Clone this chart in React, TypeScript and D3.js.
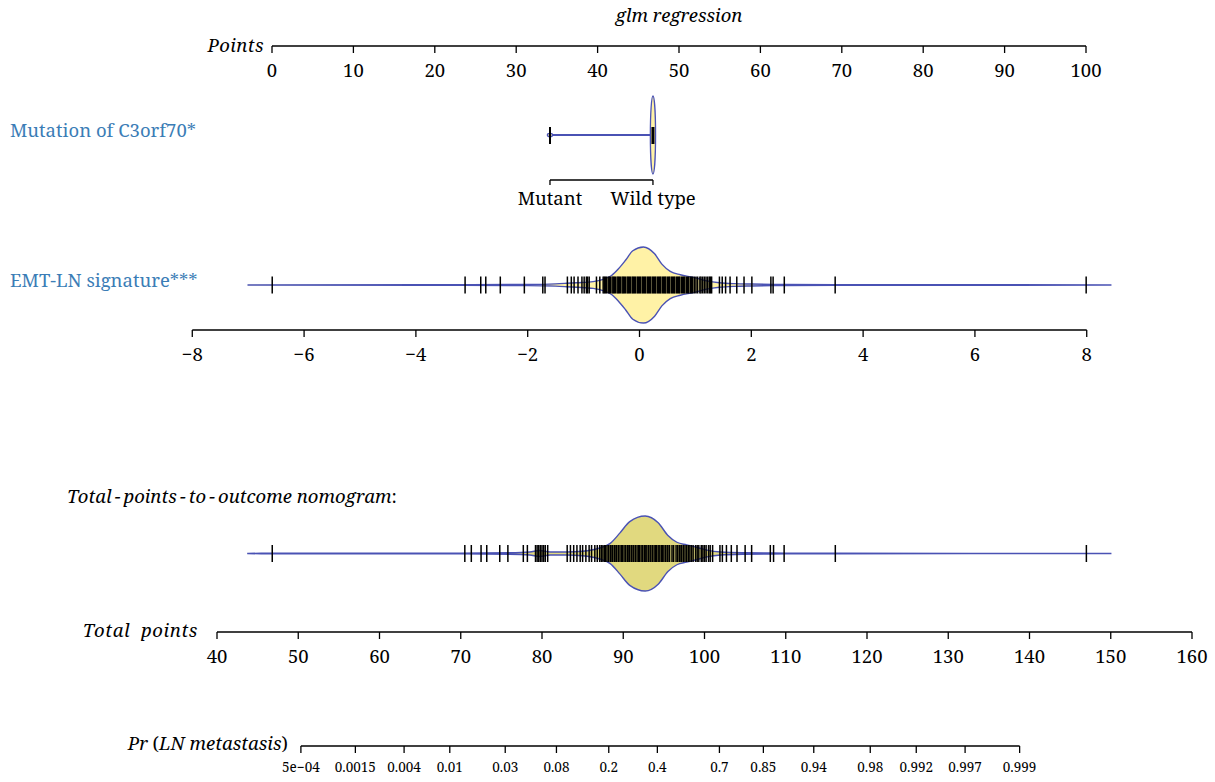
import React from "react";
import * as d3 from "d3";

// ---- Model scale data ----
const pointTicks = [0, 10, 20, 30, 40, 50, 60, 70, 80, 90, 100];

const mutationLevels = ["Mutant", "Wild type"];
const mutationPoints = [34.15, 46.8];
const mutationFreq = [0.04, 0.96];

const emtTicks = [-8, -6, -4, -2, 0, 2, 4, 6, 8];
// EMT-LN signature values that map to 0 and 100 points
const emtPointRange = [-6.574, 7.987];

// EMT-LN signature observations (rug)
const emtRug = [
  -6.57, -3.12, -2.84, -2.75, -2.49, -2.06, -1.73, -1.69, -1.29, -1.22, -1.17, -1.1, -1.03, -0.99,
  -0.95, -0.93, -0.9, -0.77, -0.71,
  -0.65, -0.63, -0.61, -0.59, -0.56, -0.54, -0.52, -0.49, -0.47, -0.45, -0.43, -0.4, -0.38, -0.36,
  -0.34, -0.31, -0.29, -0.27, -0.25, -0.22, -0.2, -0.18, -0.16, -0.13, -0.11, -0.09, -0.07, -0.04,
  -0.02, 0.0, 0.02, 0.05, 0.07, 0.09, 0.11, 0.14, 0.16, 0.18, 0.2, 0.23, 0.25, 0.27, 0.29, 0.32,
  0.34, 0.36, 0.38, 0.41, 0.43, 0.45, 0.47, 0.5, 0.52, 0.54, 0.57, 0.59, 0.61, 0.63, 0.66, 0.68,
  0.7, 0.72, 0.75, 0.77, 0.79, 0.81, 0.84, 0.86, 0.88, 0.91, 0.93, 0.95,
  0.98, 1.01, 1.04, 1.08, 1.1, 1.13, 1.16, 1.19, 1.22, 1.25, 1.27, 1.29,
  1.43, 1.48, 1.54, 1.62, 1.74, 1.87, 2.01, 2.35, 2.39, 2.59, 3.5, 7.99,
];

// Density profile of the EMT-LN signature (relative to its peak)
const emtDensityX = [
  -7.0, -3.2, -2.0, -1.5, -1.3, -1.12, -0.83, -0.65, -0.5, -0.38, -0.25, -0.12, 0.07, 0.27, 0.4,
  0.55, 0.73, 0.96, 1.2, 1.43, 1.7, 2.0, 2.6, 3.5, 8.43,
];
const emtDensityY = [
  0.004, 0.01, 0.015, 0.03, 0.045, 0.06, 0.09, 0.15, 0.25, 0.42, 0.65, 0.9, 1.0, 0.82, 0.55, 0.36,
  0.27, 0.2, 0.11, 0.06, 0.035, 0.025, 0.015, 0.008, 0.003,
];

const totalTicks = [40, 50, 60, 70, 80, 90, 100, 110, 120, 130, 140, 150, 160];

// Total points of the observations (rug)
const totalRug = [
  46.8, 70.5, 71.3, 72.5, 73.2, 74.8, 75.8, 77.7, 78.2, 79.2, 79.4, 79.6, 79.8, 80.0, 80.2, 80.4,
  80.7, 83.1, 83.5, 83.9, 84.3, 84.7, 85.0, 85.4, 85.8, 86.1, 86.5, 86.8,
  87.1, 87.3, 87.5, 87.7, 87.8, 88.0, 88.2, 88.4, 88.5, 88.7, 88.9, 89.1, 89.2, 89.4, 89.6, 89.8,
  89.9, 90.1, 90.3, 90.5, 90.6, 90.8, 91.0, 91.2, 91.3, 91.5, 91.7, 91.9, 92.0, 92.2, 92.4, 92.6,
  92.7, 92.9, 93.1, 93.3, 93.4, 93.6, 93.8, 94.0, 94.1, 94.3, 94.5, 94.7, 94.8, 95.0, 95.2, 95.4,
  95.5, 95.7, 96.0, 96.2, 96.5, 96.7, 96.9, 97.1, 97.2, 97.4, 97.6, 97.8, 98.0, 98.2, 98.4, 98.6,
  98.9, 99.1, 99.3, 99.6, 99.8, 100.0, 100.2, 100.5, 100.7, 101.0,
  101.9, 102.2, 102.7, 103.3, 104.0, 105.0, 105.8, 108.1, 108.5, 109.8, 116.1, 147.0,
];

// Density profile of total points (relative to its peak)
const totalDensityX = [
  43.8, 47, 70, 76, 78.5, 79.7, 81, 83, 85, 87, 88.4, 89.6, 90.8, 92.7, 94.3, 95.5, 96.6, 97.8,
  99.1, 100.3, 102, 105, 110, 116, 150,
];
const totalDensityY = [
  0.004, 0.006, 0.01, 0.02, 0.04, 0.08, 0.04, 0.04, 0.06, 0.14, 0.27, 0.55, 0.85, 1.0, 0.82, 0.48,
  0.3, 0.23, 0.16, 0.09, 0.04, 0.02, 0.01, 0.006, 0.003,
];

// Probability scale: logit(p) = slope * (total - total50)
const probTicks = [0.0005, 0.0015, 0.004, 0.01, 0.03, 0.08, 0.2, 0.4, 0.7, 0.85, 0.94, 0.98, 0.992, 0.997, 0.999];
const probLabels = ["5e\u221204", "0.0015", "0.004", "0.01", "0.03", "0.08", "0.2", "0.4", "0.7", "0.85", "0.94", "0.98", "0.992", "0.997", "0.999"];
const logitSlope = 0.164;
const total50 = 96.67;

const FONT = '"Noto Serif", "DejaVu Serif", serif';
const OUTLINE = "#4a52b4";
const LABEL_BLUE = "#3b7db6";
const FS = 18.5;
const MINUS = "\u2009\u2212\u2009";

type AxisProps = { y: number; ticks: number[]; x: (v: number) => number; labels?: string[]; fontSize?: number; labelDy?: number; tickLen?: number };

function Axis({ y, ticks, x, labels, fontSize = FS, labelDy = 31, tickLen = 7 }: AxisProps) {
  const xs = ticks.map(x);
  return (
    <g>
      <line x1={d3.min(xs)} x2={d3.max(xs)} y1={y} y2={y} stroke="#000" strokeWidth={1.3} />
      {ticks.map((t, i) => (
        <g key={i}>
          <line x1={xs[i]} x2={xs[i]} y1={y} y2={y + tickLen} stroke="#000" strokeWidth={1.3} />
          <text x={xs[i]} y={y + labelDy} textAnchor="middle" fontSize={fontSize}>
            {labels ? labels[i] : String(t).replace("-", "\u2212")}
          </text>
        </g>
      ))}
    </g>
  );
}

function Violin({ xs, ys, x, cy, half, fill }: { xs: number[]; ys: number[]; x: (v: number) => number; cy: number; half: number; fill: string }) {
  const pts = xs.map((v, i) => [v, ys[i]] as [number, number]);
  const area = d3
    .area<[number, number]>()
    .x((d) => x(d[0]))
    .y0((d) => cy + d[1] * half)
    .y1((d) => cy - d[1] * half)
    .curve(d3.curveMonotoneX);
  return <path d={area(pts) ?? ""} fill={fill} stroke={OUTLINE} strokeWidth={1.4} />;
}

function Rug({ values, x, cy, len = 8.5 }: { values: number[]; x: (v: number) => number; cy: number; len?: number }) {
  return (
    <g>
      {values.map((v, i) => (
        <line key={i} x1={x(v)} x2={x(v)} y1={cy - len} y2={cy + len} stroke="#000" strokeWidth={1.5} />
      ))}
    </g>
  );
}

export default function App() {
  const pointsX = d3.scaleLinear().domain([0, 100]).range([272, 1086]);
  const emtToPoints = d3.scaleLinear().domain(emtPointRange).range([0, 100]);
  const emtX = (v: number) => pointsX(emtToPoints(v));
  const totalX = d3.scaleLinear().domain([40, 160]).range([217, 1192]);
  const probX = (p: number) => totalX(total50 + Math.log(p / (1 - p)) / logitSlope);

  const mutX = mutationPoints.map((p) => pointsX(p));
  const mutY = 135;
  const maxFreq = d3.max(mutationFreq) ?? 1;

  return (
    <svg width={1215} height={782} style={{ position: "absolute", left: 0, top: 0, background: "#fff", fontFamily: FONT }}>
      <text x={679} y={22} textAnchor="middle" fontStyle="italic" fontSize={FS}>glm regression</text>

      {/* Points scale */}
      <text x={264} y={52} textAnchor="end" fontStyle="italic" fontSize={FS} letterSpacing={0.4}>Points</text>
      <Axis y={46} ticks={pointTicks} x={pointsX} />

      {/* Mutation of C3orf70 */}
      <text x={10} y={137} fontSize={FS} fill={LABEL_BLUE}>Mutation of C3orf70*</text>
      <line x1={mutX[0]} x2={mutX[1]} y1={mutY} y2={mutY} stroke={OUTLINE} strokeWidth={2} />
      {mutationLevels.map((lv, i) => (
        <ellipse key={lv} cx={mutX[i]} cy={mutY} rx={2.6} ry={(mutationFreq[i] / maxFreq) * 39} fill="#fff2a6" stroke={OUTLINE} strokeWidth={1.3} />
      ))}
      {mutationLevels.map((lv, i) => (
        <line key={lv} x1={mutX[i]} x2={mutX[i]} y1={mutY - 8} y2={mutY + 9} stroke="#000" strokeWidth={i === 1 ? 3 : 2} />
      ))}
      <Axis y={180} ticks={mutationPoints} x={pointsX} labels={mutationLevels} tickLen={5} labelDy={25} />

      {/* EMT-LN signature */}
      <text x={10} y={287} fontSize={FS} fill={LABEL_BLUE}>EMT-LN signature***</text>
      <Violin xs={emtDensityX} ys={emtDensityY} x={emtX} cy={285} half={38} fill="#fff2a6" />
      <Rug values={emtRug} x={emtX} cy={285} />
      <Axis y={330} ticks={emtTicks} x={emtX} />

      {/* Total points */}
      <text x={67} y={503} fontSize={FS}>
        <tspan fontStyle="italic">Total{MINUS}points{MINUS}to{MINUS}outcome nomogram</tspan>:
      </text>
      <Violin xs={totalDensityX} ys={totalDensityY} x={totalX} cy={553.5} half={37.5} fill="#e1d97f" />
      <Rug values={totalRug} x={totalX} cy={553.5} />
      <text x={198} y={637} textAnchor="end" fontStyle="italic" fontSize={FS} style={{ whiteSpace: "pre" }} letterSpacing={0.6}>Total  points</text>
      <Axis y={632} ticks={totalTicks} x={totalX} />

      {/* Probability */}
      <text x={288} y={750} textAnchor="end" fontSize={FS}>
        <tspan fontStyle="italic">Pr</tspan> (<tspan fontStyle="italic">LN metastasis</tspan>)
      </text>
      <Axis y={746} ticks={probTicks} x={probX} labels={probLabels} fontSize={13.5} labelDy={26} />
    </svg>
  );
}
